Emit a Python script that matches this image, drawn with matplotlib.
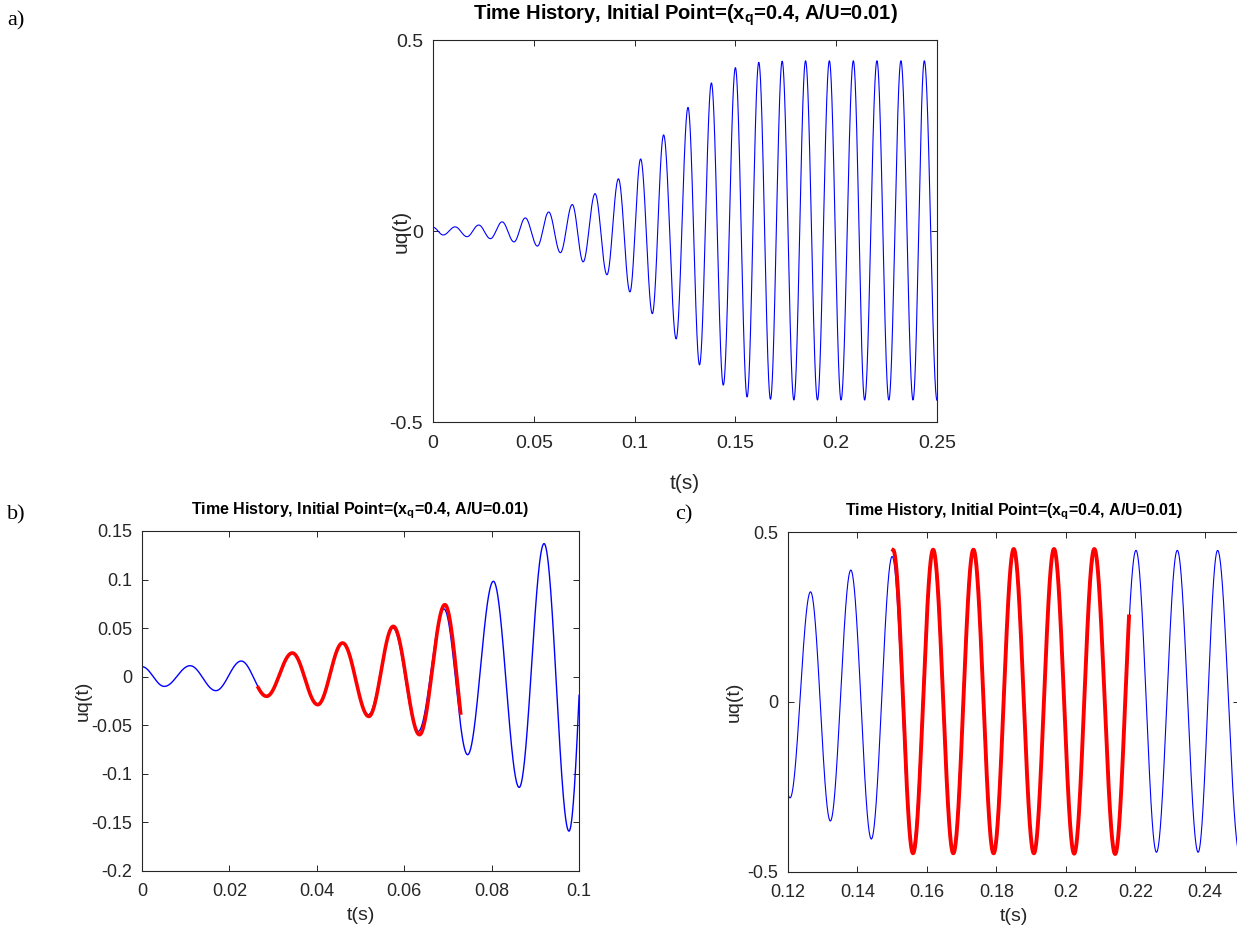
import numpy as np
import matplotlib
matplotlib.use('Agg')
import matplotlib.pyplot as plt

# extrema of the simulated time history (blue)
blue_t = [0.0000, 0.0051, 0.0110, 0.0169, 0.0227, 0.0285, 0.0343, 0.0402, 0.0458,
          0.0518, 0.0574, 0.0632, 0.0691, 0.0745, 0.0804, 0.0863, 0.0920, 0.0977,
          0.1030, 0.1088, 0.1144, 0.1206, 0.1265, 0.1322, 0.1381, 0.1440, 0.1500,
          0.1558, 0.1616, 0.1674, 0.1732, 0.1790, 0.1848, 0.1907, 0.1966, 0.2024,
          0.2085, 0.2141, 0.2202, 0.2261, 0.2321, 0.2381, 0.2437, 0.2500]
blue_u = [0.0103, -0.0100, 0.0113, -0.0144, 0.0161, -0.0196, 0.0244, -0.0281, 0.0347,
          -0.0391, 0.0501, -0.0563, 0.0697, -0.0803, 0.0982, -0.114, 0.137, -0.159,
          0.189, -0.216, 0.252, -0.282, 0.324, -0.350, 0.388, -0.403, 0.428,
          -0.434, 0.442, -0.440, 0.445, -0.442, 0.446, -0.442, 0.446, -0.442,
          0.446, -0.442, 0.446, -0.442, 0.446, -0.442, 0.446, -0.443]

# fitted model, short window (panel b)
red_b_t = [0.0227, 0.0285, 0.0344, 0.0402, 0.0459, 0.0519, 0.0575, 0.0635, 0.0693, 0.0750]
red_b_u = [0.0161, -0.0202, 0.0244, -0.0288, 0.0347, -0.0409, 0.0518, -0.0597, 0.0741, -0.085]
red_b_span = (0.0266, 0.0729)

# fitted model, limit cycle window (panel c)
red_c_t = [0.1503, 0.1560, 0.1618, 0.1676, 0.1734, 0.1792, 0.1850, 0.1908,
           0.1966, 0.2024, 0.2082, 0.2142, 0.2200]
red_c_u = [0.447, -0.445, 0.448, -0.445, 0.448, -0.445, 0.450, -0.445,
           0.450, -0.446, 0.450, -0.447, 0.448]
red_c_span = (0.1503, 0.2182)

title = r'Time History, Initial Point=(x$_\mathregular{q}$=0.4, A/U=0.01)'

a_xticks = [0, 0.05, 0.1, 0.15, 0.2, 0.25]
a_xlabels = ['0', '0.05', '0.1', '0.15', '0.2', '0.25']
a_yticks = [-0.5, 0, 0.5]
a_ylabels = ['-0.5', '0', '0.5']
b_xticks = [0, 0.02, 0.04, 0.06, 0.08, 0.1]
b_xlabels = ['0', '0.02', '0.04', '0.06', '0.08', '0.1']
b_yticks = [-0.2, -0.15, -0.1, -0.05, 0, 0.05, 0.1, 0.15]
b_ylabels = ['-0.2', '-0.15', '-0.1', '-0.05', '0', '0.05', '0.1', '0.15']
c_xticks = [0.12, 0.14, 0.16, 0.18, 0.2, 0.22, 0.24]
c_xlabels = ['0.12', '0.14', '0.16', '0.18', '0.2', '0.22', '0.24']
c_yticks = [-0.5, 0, 0.5]
c_ylabels = ['-0.5', '0', '0.5']


def through_extrema(tp, up, t0, t1, n=6000):
    # smooth half-cosine between successive extrema
    tp = np.asarray(tp, float)
    up = np.asarray(up, float)
    t = np.linspace(t0, t1, n)
    i = np.clip(np.searchsorted(tp, t, side='right') - 1, 0, len(tp) - 2)
    frac = np.clip((t - tp[i]) / (tp[i + 1] - tp[i]), 0, 1)
    u = 0.5 * (up[i] + up[i + 1]) + 0.5 * (up[i] - up[i + 1]) * np.cos(np.pi * frac)
    return t, u


plt.rcParams['font.family'] = ['Liberation Sans', 'DejaVu Sans']
plt.rcParams['axes.linewidth'] = 0.8
tick_col = '#262626'


def style(ax, xt, xl, yt, yl, xlim, ylim, fs, tfs, ylab_x, xlab_y, tpad):
    ax.set_xlim(*xlim)
    ax.set_ylim(*ylim)
    ax.set_xticks(xt)
    ax.set_xticklabels(xl)
    ax.set_yticks(yt)
    ax.set_yticklabels(yl)
    ax.tick_params(direction='in', top=True, right=True, length=4, width=0.7,
                   colors=tick_col, labelsize=fs)
    ax.tick_params(axis='y', pad=7)
    ax.tick_params(axis='x', pad=9)
    for s in ax.spines.values():
        s.set_color(tick_col)
    ax.set_xlabel('t(s)', fontsize=fs + 1, color=tick_col)
    ax.set_ylabel('uq(t)', fontsize=fs + 1, color=tick_col)
    ax.yaxis.set_label_coords(ylab_x, 0.5)
    ax.xaxis.set_label_coords(0.5, xlab_y)
    ax.set_title(title, fontsize=tfs, fontweight='bold',
                 family=['Liberation Sans Narrow', 'Liberation Sans'], pad=tpad)


fig = plt.figure(figsize=(12.37, 9.34), dpi=100)

ax_a = fig.add_axes([0.350, 0.548, 0.4075, 0.409])
ax_b = fig.add_axes([0.1148, 0.0675, 0.3533, 0.364])
ax_c = fig.add_axes([0.6370, 0.0664, 0.3650, 0.364])

tb, ub = through_extrema(blue_t, blue_u, 0, 0.25)

ax_a.plot(tb, ub, color='#0000ff', lw=0.8)
style(ax_a, a_xticks, a_xlabels, a_yticks, a_ylabels, (0, 0.25), (-0.5, 0.5),
      14, 14.5, -0.045, -0.135, 15)

ax_b.plot(tb, ub, color='#0000ff', lw=1.0)
tr, ur = through_extrema(red_b_t, red_b_u, *red_b_span)
ax_b.plot(tr, ur, color='#ff0000', lw=2.6)
style(ax_b, b_xticks, b_xlabels, b_yticks, b_ylabels, (0, 0.1), (-0.2, 0.15),
      13, 11.5, -0.115, -0.105, 12)

ax_c.plot(tb, ub, color='#0000ff', lw=0.8)
tr, ur = through_extrema(red_c_t, red_c_u, *red_c_span)
ax_c.plot(tr, ur, color='#ff0000', lw=2.8)
style(ax_c, c_xticks, c_xlabels, c_yticks, c_ylabels, (0.12, 0.25), (-0.5, 0.5),
      13, 11.5, -0.10, -0.105, 12)

serif = ['Liberation Serif', 'DejaVu Serif']
fig.text(0.006, 0.978, 'a)', fontsize=16, family=serif, va='center')
fig.text(0.006, 0.449, 'b)', fontsize=16, family=serif, va='center')
fig.text(0.546, 0.449, 'c)', fontsize=16, family=serif, va='center')

fig.savefig('out.png', dpi=100)
